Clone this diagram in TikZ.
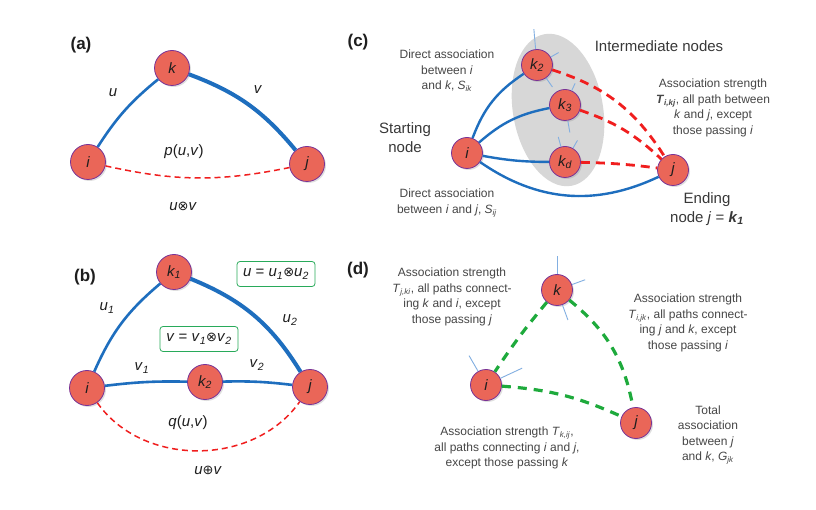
\documentclass[tikz,border=0pt]{standalone}
\usepackage{fontspec}
\setmainfont{Liberation Sans}
\newfontfamily\symfont{DejaVu Sans}
\usetikzlibrary{shadows}
\definecolor{nodefill}{RGB}{234,102,88}
\definecolor{nodeborder}{RGB}{120,50,150}
\definecolor{edgeblue}{RGB}{30,110,190}
\definecolor{dashred}{RGB}{240,30,30}
\definecolor{dashgreen}{RGB}{30,170,60}
\definecolor{spikeblue}{RGB}{130,175,225}
\definecolor{txtgray}{RGB}{70,70,70}
\definecolor{ellgray}{RGB}{215,215,215}
\definecolor{boxgreen}{RGB}{40,170,90}
\definecolor{lbldark}{RGB}{30,30,30}
\newcommand{\isub}[2]{\textit{#1}\textsubscript{\textit{#2}}}
\newcommand{\otim}{{\symfont\fontsize{13}{14}\selectfont ⊗}}
\newcommand{\oplu}{{\symfont\fontsize{13}{14}\selectfont ⊕}}
\tikzset{
  vert/.style={circle,draw=nodeborder,line width=0.8pt,fill=nodefill,minimum size=35pt,inner sep=0pt,
    font=\fontsize{15}{18}\selectfont\itshape,text=lbldark,
    drop shadow={shadow xshift=1.5pt,shadow yshift=-1.5pt,opacity=0.25}},
  svert/.style={vert,minimum size=31pt},
  panel/.style={font=\fontsize{17}{20}\selectfont\bfseries,text=lbldark},
  elbl/.style={font=\fontsize{15}{18}\selectfont,text=lbldark},
  blueedge/.style={draw=edgeblue,line width=2.6pt},
  thickblue/.style={draw=edgeblue,line width=4pt},
  cblue/.style={draw=edgeblue,line width=2.4pt},
  reddash/.style={draw=dashred,line width=1.5pt,dash pattern=on 6pt off 4pt},
  reddashc/.style={draw=dashred,line width=2.8pt,dash pattern=on 9pt off 6pt},
  greendash/.style={draw=dashgreen,line width=3.2pt,dash pattern=on 9pt off 7pt},
  spikeline/.style={draw=spikeblue,line width=0.9pt},
  eqbox/.style={draw=boxgreen,rounded corners=3pt,line width=0.8pt,fill=white,minimum width=78pt,minimum height=25pt,
    font=\fontsize{15}{18}\selectfont,text=lbldark},
  txt/.style={font=\fontsize{12}{15.5}\selectfont,text=txtgray,align=center,inner sep=0pt},
  bigtxt/.style={font=\fontsize{15}{19}\selectfont,text=txtgray!80!black,align=center,inner sep=0pt}
}
\begin{document}
\begin{tikzpicture}[x=1pt,y=1pt]
\useasboundingbox (0,0) rectangle (816,-510);
\fill[white] (0,0) rectangle (816,-510);

% ---------------- (a)
\node[panel] (la) at (81,-45) {(a)};
\node[vert] (ak) at (172,-68) {k};
\node[vert] (ai) at (88,-162) {i};
\node[vert] (aj) at (307,-164) {j};
\draw[blueedge] (ai) to[bend left=9] (ak);
\draw[thickblue] (ak) to[bend left=15] (aj);
\draw[reddash] (ai) to[bend right=12] (aj);
\node[elbl] (au) at (113,-93) {\textit{u}};
\node[elbl] (av) at (258,-90) {\textit{v}};
\node[elbl] (ap) at (184,-152) {\textit{p}(\textit{u},\textit{v})};
\node[elbl] (auv) at (183,-206) {\textit{u}\otim\textit{v}};

% ---------------- (b)
\node[panel] (lb) at (85,-277) {(b)};
\node[vert] (bk1) at (174,-272) {k\textsubscript{1}};
\node[vert] (bi) at (87,-388) {i};
\node[vert] (bk2) at (205,-382) {k\textsubscript{2}};
\node[vert] (bj) at (310,-387) {j};
\draw[blueedge] (bi) to[bend left=13] (bk1);
\draw[thickblue] (bk1) to[bend left=18] (bj);
\draw[blueedge] (bi) to[bend left=4] (bk2);
\draw[blueedge] (bk2) to[bend left=4] (bj);
\draw[reddash] (bi) to[out=-55,in=-125] (bj);
\node[elbl] (bu1) at (107,-308) {\isub{u}{1}};
\node[elbl] (bu2) at (290,-320) {\isub{u}{2}};
\node[elbl] (bv1) at (142,-368) {\isub{v}{1}};
\node[elbl] (bv2) at (257,-365) {\isub{v}{2}};
\node[elbl] (bq) at (188,-423) {\textit{q}(\textit{u},\textit{v})};
\node[elbl] (buv) at (208,-470) {\textit{u}\oplu\textit{v}};
\node[eqbox] (bbu) at (276,-274) {\textit{u} = \isub{u}{1}\otim\isub{u}{2}};
\node[eqbox] (bbv) at (199,-339) {\textit{v} = \isub{v}{1}\otim\isub{v}{2}};

% ---------------- (c)
\node[panel] (lc) at (358,-42) {(c)};
\fill[ellgray] (558,-110) ellipse[x radius=45, y radius=77, rotate=10];
\node[svert] (ck2) at (537,-65) {k\textsubscript{2}};
\node[svert] (ck3) at (565,-105) {k\textsubscript{3}};
\node[svert] (ckd) at (565,-162) {k\textsubscript{d}};
\node[svert] (ci) at (467,-153) {i};
\node[svert] (cj) at (673,-170) {j};
\draw[spikeline] (ck2.95) -- ++(95:20);
\draw[spikeline] (ck2.30) -- ++(30:9);
\draw[spikeline] (ck2.-55) -- ++(-55:11);
\draw[spikeline] (ck3.65) -- ++(65:8);
\draw[spikeline] (ck3.-80) -- ++(-80:12);
\draw[spikeline] (ckd.105) -- ++(105:10);
\draw[spikeline] (ckd.60) -- ++(60:9);
\draw[cblue] (ci) to[bend left=18] (ck2);
\draw[cblue] (ci) to[bend left=15] (ck3);
\draw[cblue] (ci) to[bend right=5] (ckd);
\draw[cblue] (ci) to[bend right=30] (cj);
\draw[reddashc] (ck2) to[bend left=20] (cj);
\draw[reddashc] (ck3) to[bend left=12] (cj);
\draw[reddashc] (ckd) to[bend left=3] (cj);
\node[txt] (c1) at (447,-71) {Direct association\\between \textit{i}\\and \textit{k}, \isub{S}{ik}};
\node[bigtxt] (c2) at (659,-46) {Intermediate nodes};
\node[txt] (c3) at (713,-108) {Association strength\\\textbf{\textit{T}\textsubscript{\textit{i,kj}}}, all path between\\\textit{k} and \textit{j}, except\\those passing \textit{i}};
\node[bigtxt] (c4) at (405,-138) {Starting\\node};
\node[txt] (c5) at (447,-203) {Direct association\\between \textit{i} and \textit{j}, \isub{S}{ij}};
\node[bigtxt] (c6) at (707,-209) {Ending\\node \textit{j} = \textbf{\textit{k}\textsubscript{\textit{1}}}};

% ---------------- (d)
\node[panel] (ld) at (358,-270) {(d)};
\node[svert] (dk) at (557,-290) {k};
\node[svert] (di) at (486,-385) {i};
\node[svert] (dj) at (636,-423) {j};
\draw[spikeline] (dk.90) -- ++(90:18);
\draw[spikeline] (dk.20) -- ++(20:14);
\draw[spikeline] (dk.-70) -- ++(-70:16);
\draw[spikeline] (di.120) -- ++(120:18);
\draw[spikeline] (di.25) -- ++(25:24);
\draw[greendash] (dk) to[bend right=3] (di);
\draw[greendash] (dk) to[bend left=20] (dj);
\draw[greendash] (di) to[bend left=10] (dj);
\node[txt] (d1) at (452,-297) {Association strength\\\isub{T}{j,ki}, all paths connect-\\ing \textit{k} and \textit{i}, except\\those passing \textit{j}};
\node[txt] (d2) at (688,-323) {Association strength\\\isub{T}{i,jk}, all paths connect-\\ing \textit{j} and \textit{k}, except\\those passing \textit{i}};
\node[txt] (d3) at (507,-448) {Association strength \isub{T}{k,ij},\\all paths connecting \textit{i} and \textit{j},\\except those passing \textit{k}};
\node[txt] (d4) at (708,-435) {Total\\association\\between \textit{j}\\and \textit{k}, \isub{G}{jk}};
\end{tikzpicture}
\end{document}
